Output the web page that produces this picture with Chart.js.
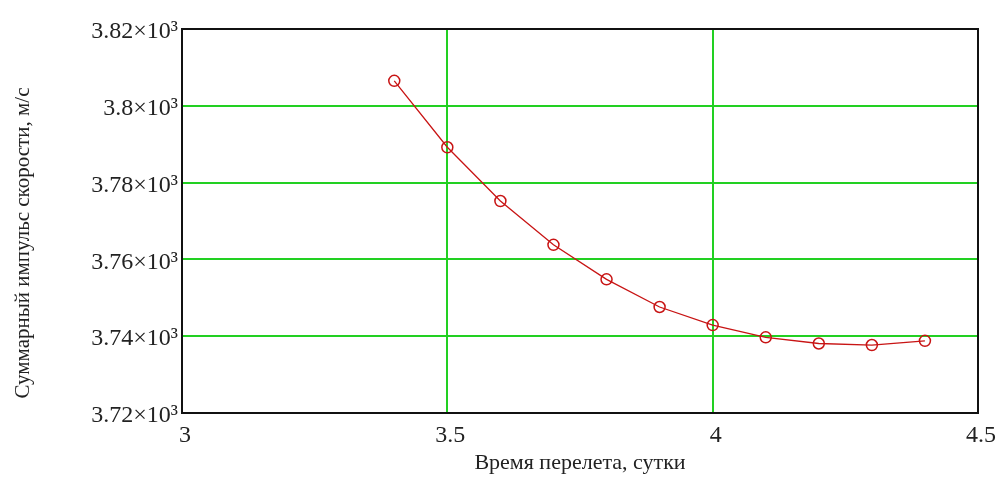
<!DOCTYPE html>
<html>
<head>
<meta charset="utf-8">
<script src="https://cdn.jsdelivr.net/npm/chart.js@4/dist/chart.umd.min.js"></script>
<style>
  html, body { margin: 0; padding: 0; background: #ffffff; }
  canvas { display: block; }
</style>
</head>
<body>
<canvas id="c" width="1005" height="504"></canvas>
<script>
// Data
const flightTimeDays = [3.4, 3.5, 3.6, 3.7, 3.8, 3.9, 4.0, 4.1, 4.2, 4.3, 4.4];
const totalImpulse   = [3806.5, 3789.2, 3775.2, 3763.8, 3754.8, 3747.6, 3742.9, 3739.7, 3738.1, 3737.7, 3738.8];
const xTickValues = [3, 3.5, 4, 4.5];
const yTickValues = [3720, 3740, 3760, 3780, 3800, 3820];
const xTitle = 'Время перелета, сутки';
const yTitle = 'Суммарный импульс скорости, м/с';

const FONT = '"Liberation Serif", "Times New Roman", serif';
const GRID_GREEN = '#22d022';
const RED = '#c81414';

const points = flightTimeDays.map((x, i) => ({ x: x, y: totalImpulse[i] }));

const frame = {
  id: 'frame',
  afterDatasetsDraw(chart) {
    const a = chart.chartArea;
    const ctx = chart.ctx;
    ctx.save();
    ctx.strokeStyle = '#111';
    ctx.lineWidth = 2;
    ctx.strokeRect(a.left, a.top, a.right - a.left, a.bottom - a.top);
    ctx.restore();
  }
};

const TITLE_W = 21 * 1.2 + 11;

new Chart(document.getElementById('c'), {
  type: 'line',
  data: {
    datasets: [{
      data: points,
      borderColor: RED,
      borderWidth: 1.3,
      pointRadius: 5.5,
      pointHoverRadius: 5.5,
      pointBorderWidth: 1.5,
      pointBorderColor: RED,
      pointBackgroundColor: 'rgba(0,0,0,0)',
      tension: 0
    }]
  },
  options: {
    responsive: false,
    animation: false,
    events: [],
    layout: { padding: { left: 0, right: 27, top: 29, bottom: 47 } },
    plugins: {
      legend: { display: false },
      tooltip: { enabled: false },
      title: {
        display: true,
        position: 'left',
        align: 'center',
        fullSize: true,
        text: yTitle,
        color: '#222',
        font: { family: FONT, size: 21, weight: 'normal', lineHeight: 1.2 },
        padding: { top: 11, bottom: 0 }
      }
    },
    scales: {
      x: {
        type: 'linear',
        min: xTickValues[0],
        max: xTickValues[xTickValues.length - 1],
        afterBuildTicks(scale) { scale.ticks = xTickValues.map(v => ({ value: v })); },
        afterFit(scale) { scale.height = 44; },
        ticks: {
          color: '#222',
          font: { family: FONT, size: 24 },
          padding: 8,
          labelOffset: 3,
          maxRotation: 0,
          callback: v => String(v)
        },
        grid: {
          drawTicks: false,
          lineWidth: 2,
          color: ctx => (ctx.index === 0 || ctx.index === xTickValues.length - 1) ? 'rgba(0,0,0,0)' : GRID_GREEN
        },
        border: { display: false },
        title: {
          display: true,
          text: xTitle,
          color: '#222',
          font: { family: FONT, size: 22 },
          padding: { top: 0, bottom: -19 }
        }
      },
      y: {
        type: 'linear',
        min: yTickValues[0],
        max: yTickValues[yTickValues.length - 1],
        afterBuildTicks(scale) { scale.ticks = yTickValues.map(v => ({ value: v })); },
        afterFit(scale) { scale.width = 182 - TITLE_W; },
        ticks: {
          color: '#222',
          font: { family: FONT, size: 24 },
          padding: 4,
          labelOffset: 3,
          callback: v => String(+(v / 1000).toFixed(2)) + '×10³'
        },
        grid: {
          drawTicks: false,
          lineWidth: 2,
          color: ctx => (ctx.index === 0 || ctx.index === yTickValues.length - 1) ? 'rgba(0,0,0,0)' : GRID_GREEN
        },
        border: { display: false }
      }
    }
  },
  plugins: [frame]
});
</script>
</body>
</html>
